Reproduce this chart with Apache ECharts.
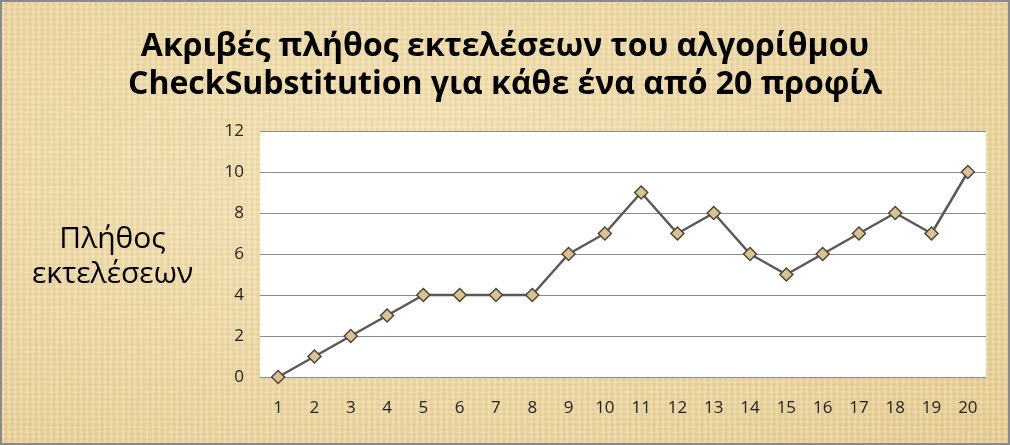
<!DOCTYPE html>
<html>
<head>
<meta charset="utf-8">
<script src="https://cdn.jsdelivr.net/npm/echarts@6/dist/echarts.min.js"></script>
<style>
html,body{margin:0;padding:0;}
#c{width:1010px;height:445px;box-sizing:border-box;border:2px solid #8a8a8a;
background-color:#ebd7a6;
background-image:
 repeating-linear-gradient(90deg, rgba(255,250,220,0.18) 0px, rgba(255,250,220,0.18) 2px, rgba(180,150,90,0.08) 3px, rgba(255,250,220,0) 6px),
 repeating-linear-gradient(0deg, rgba(255,250,220,0.15) 0px, rgba(255,250,220,0.15) 2px, rgba(180,150,90,0.07) 3px, rgba(255,250,220,0) 5px),
 radial-gradient(ellipse at 40% 40%, #f3e2b4 0%, #e8d19c 70%, #e3c98f 100%);
}
</style>
</head>
<body>
<div id="c"></div>
<script>
const categories = ['1','2','3','4','5','6','7','8','9','10','11','12','13','14','15','16','17','18','19','20'];
const values = [0,1,2,3,4,4,4,4,6,7,9,7,8,6,5,6,7,8,7,10];
const yTicks = {min:0, max:12, interval:2};
const titleText = 'Ακριβές πλήθος εκτελέσεων του αλγορίθμου\nCheckSubstitution για κάθε ένα από 20 προφίλ';
const yName = 'Πλήθος\nεκτελέσεων';

const chart = echarts.init(document.getElementById('c'), null, {renderer:'canvas'});
chart.setOption({
  backgroundColor: 'transparent',
  title: {
    text: titleText,
    left: 'center',
    top: 21,
    textStyle: {fontFamily:'Open Sans', fontWeight:'bold', fontSize:32, color:'#000', lineHeight:38}
  },
  graphic: [{
    type:'text',
    left: 30,
    top: 220,
    style: {text: yName, font:'30px "Open Sans"', fill:'#000', textAlign:'center', lineHeight:35, x:82}
  }],
  grid: {left:258, right:22, top:129, bottom:66, show:true, backgroundColor:'#fff', borderWidth:0},
  xAxis: {
    type:'category', data: categories, boundaryGap:true,
    axisLine:{show:true, lineStyle:{color:'#8c8c8c', width:1}},
    axisTick:{show:false},
    axisLabel:{fontFamily:'Open Sans', fontSize:17, color:'#222', margin:23}
  },
  yAxis: {
    type:'value', min:yTicks.min, max:yTicks.max, interval:yTicks.interval,
    axisLine:{show:false}, axisTick:{show:false},
    axisLabel:{fontFamily:'Open Sans', fontSize:17, color:'#222', margin:16}
    ,
    splitLine:{lineStyle:{color:'#8c8c8c', width:1}}
  },
  series: [{
    type:'line', data: values,
    symbol:'diamond', symbolSize:13,
    lineStyle:{color:'#595959', width:2.5},
    itemStyle:{color:'#d8c394', borderColor:'#4f4535', borderWidth:1.5},
    animation:false
  }],
  animation:false
});
</script>
</body>
</html>
